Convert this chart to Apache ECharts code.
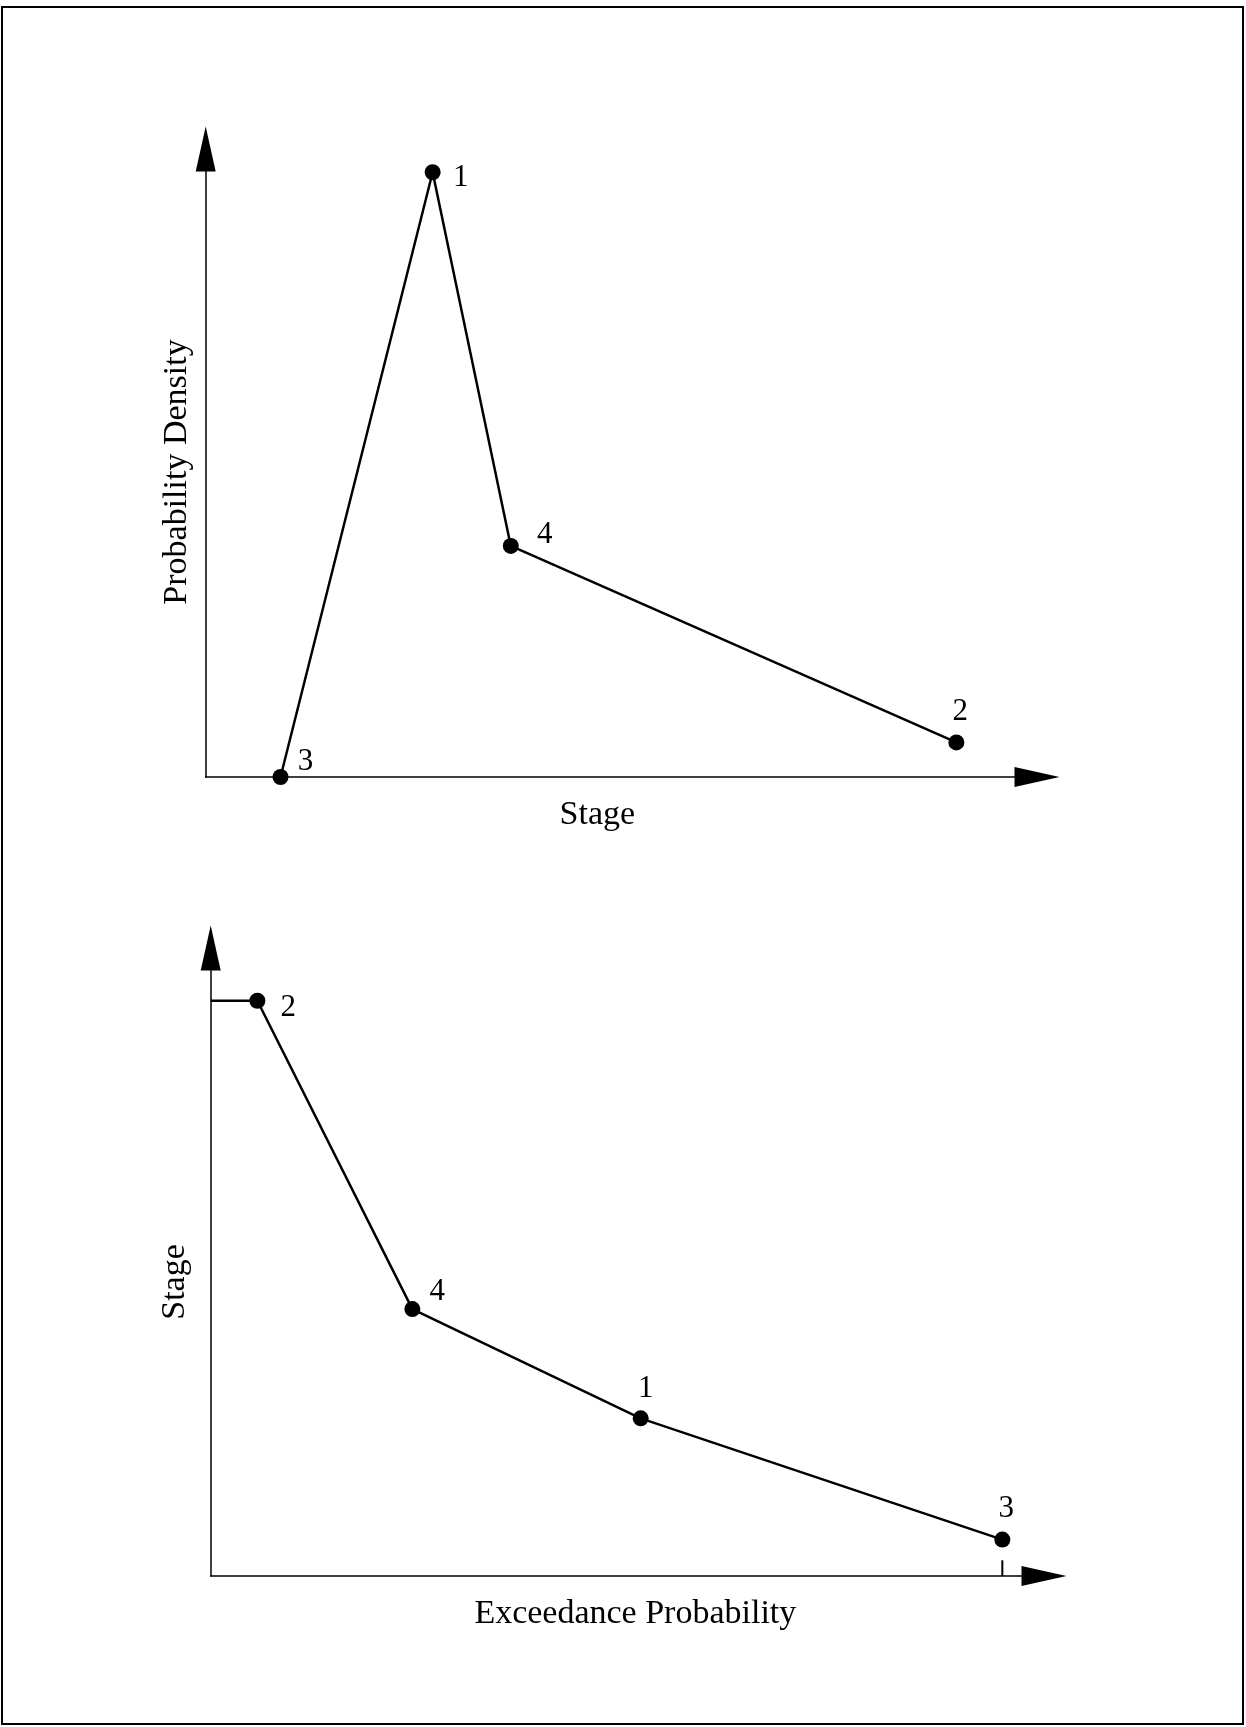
<!DOCTYPE html>
<html>
<head>
	<meta charset="utf-8">
	<title>Stage probability</title>
	<script src="https://cdn.jsdelivr.net/npm/echarts@6/dist/echarts.min.js"></script>
	<style>body{margin:0;background:#fff;}</style>
</head>
<body>
	<div id="main" style="width:1246px;height:1727px"></div>
	<script type="text/javascript">
var myChart = echarts.init(document.getElementById('main'));

// top panel: probability density vs stage (arbitrary units 0-100)
var densityPoints = ['3', '1', '4', '2'];
var densityStage = [9.0, 27.3, 36.7, 90.3];
var densityValue = [0, 96.3, 36.8, 5.5];

// bottom panel: stage vs exceedance probability
var exceedPoints = ['2', '4', '1', '3'];
var exceedProb = [5.6, 24.2, 51.6, 95.0];
var exceedStage = [91.6, 42.5, 25.1, 5.8];

// label offsets in pixels from each dot
var densityLabelOffset = [[25, -15], [28, 6], [34, -11], [4, -31]];
var exceedLabelOffset = [[31, 7], [25, -17], [5, -30], [4, -31]];

var font = 'Liberation Serif';

function pts(xs, ys, names, offs) {
    return xs.map(function (x, i) {
        return {
            value: [x, ys[i]],
            label: { show: true, formatter: names[i], position: 'inside', offset: offs[i] }
        };
    });
}

function axisX(idx, name, nameGap, pad) {
    return {
        type: 'value', gridIndex: idx, min: 0, max: 100,
        name: name, nameLocation: 'middle', nameGap: nameGap,
        nameTextStyle: { fontFamily: font, fontSize: 34, color: '#000', verticalAlign: 'middle', padding: pad },
        axisLine: { lineStyle: { color: '#000', width: 1.5 }, symbol: ['none', 'triangle'], symbolSize: [20, 45] },
        axisTick: { show: false }, axisLabel: { show: false }, splitLine: { show: false }
    };
}

function axisY(idx, name, nameGap, pad) {
    return {
        type: 'value', gridIndex: idx, min: 0, max: 100,
        name: name, nameLocation: 'middle', nameGap: nameGap, nameRotate: 90,
        nameTextStyle: { fontFamily: font, fontSize: 34, color: '#000', verticalAlign: 'middle', padding: pad },
        axisLine: { lineStyle: { color: '#000', width: 1.5 }, symbol: ['none', 'triangle'], symbolSize: [20, 45] },
        axisTick: { show: false }, axisLabel: { show: false }, splitLine: { show: false }
    };
}

var lineStyle = { color: '#000', width: 2.5 };
var labelStyle = { fontFamily: font, fontSize: 31, color: '#000' };

var option = {
    animation: false,
    backgroundColor: '#fff',
    graphic: [{
        type: 'rect',
        shape: { x: 2, y: 7, width: 1241, height: 1717 },
        style: { fill: 'none', stroke: '#000', lineWidth: 2 }
    }],
    grid: [
        { left: 205.7, top: 149, width: 831.3, height: 628 },
        { left: 210.7, top: 948, width: 833.3, height: 628 }
    ],
    xAxis: [
        axisX(0, 'Stage', 38, [0, 48, 0, 0]),
        axisX(1, 'Exceedance Probability', 38, [0, 0, 0, 16])
    ],
    yAxis: [
        axisY(0, 'Probability Density', 29, [0, 18, 0, 0]),
        axisY(1, 'Stage', 36, [0, 40, 0, 0])
    ],
    series: [
        {
            type: 'line', xAxisIndex: 0, yAxisIndex: 0, clip: false,
            data: pts(densityStage, densityValue, densityPoints, densityLabelOffset),
            symbol: 'circle', symbolSize: 16,
            itemStyle: { color: '#000' }, lineStyle: lineStyle, label: labelStyle
        },
        {
            type: 'line', xAxisIndex: 1, yAxisIndex: 1, clip: false,
            data: pts(exceedProb, exceedStage, exceedPoints, exceedLabelOffset),
            symbol: 'circle', symbolSize: 16,
            itemStyle: { color: '#000' }, lineStyle: lineStyle, label: labelStyle
        },
        {
            // flat segment from the axis to point 2
            type: 'line', xAxisIndex: 1, yAxisIndex: 1, clip: false, symbol: 'none',
            data: [[0, exceedStage[0]], [exceedProb[0], exceedStage[0]]],
            lineStyle: lineStyle
        },
        {
            // small tick under point 3
            type: 'line', xAxisIndex: 1, yAxisIndex: 1, clip: false, symbol: 'none',
            data: [[exceedProb[3], 0], [exceedProb[3], 2.5]],
            lineStyle: { color: '#000', width: 2 }
        }
    ]
};

myChart.setOption(option);
	</script>
</body>
</html>
